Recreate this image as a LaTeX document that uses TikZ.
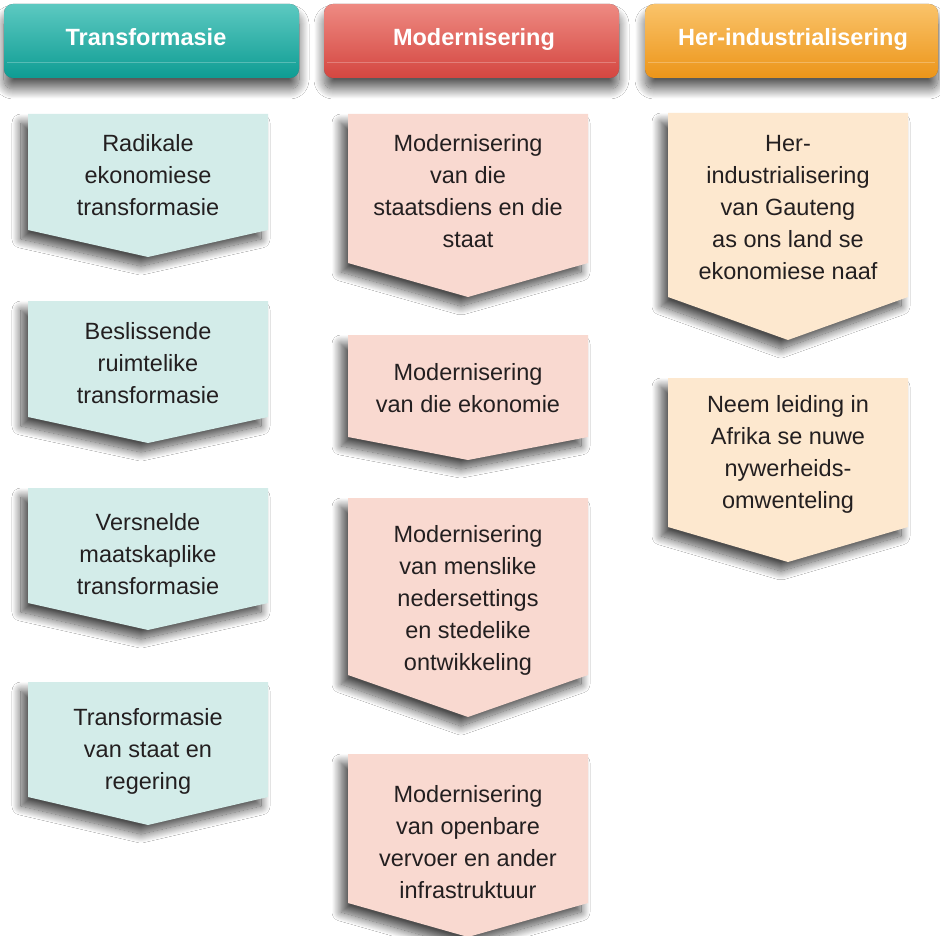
\documentclass[tikz,border=0pt]{standalone}
\usepackage{fontspec}
\setmainfont{Liberation Sans}
\usetikzlibrary{shadows.blur}
\definecolor{tealH}{HTML}{16AEA4}
\definecolor{tealHtop}{HTML}{5CC9C1}
\definecolor{tealHbot}{HTML}{0E9C93}
\definecolor{redH}{HTML}{E5524A}
\definecolor{redHtop}{HTML}{EE8A82}
\definecolor{redHbot}{HTML}{D44640}
\definecolor{oraH}{HTML}{F7A41F}
\definecolor{oraHtop}{HTML}{FAC36A}
\definecolor{oraHbot}{HTML}{EC9519}
\definecolor{tealL}{HTML}{D3ECE9}
\definecolor{pinkL}{HTML}{F9D9D0}
\definecolor{creamL}{HTML}{FDE8CF}
\definecolor{txt}{HTML}{231F20}
\definecolor{shade}{HTML}{5A5A66}
\newcommand\Chev[8]{%
  \path[chevshape, fill=#6] (#2-120,#3) coordinate (#1tl) -- (#2+120,#3) coordinate (#1tr)
     -- (#2+120,#4) coordinate (#1br) -- (#2,#5) coordinate (#1tip) -- (#2-120,#4) coordinate (#1bl) -- cycle;
  \node[bodytext] (#1) at (#2,#7) {#8};
}
\newcommand\Hdr[8]{%
  \path[hdrshape, top color=#4, middle color=#5, bottom color=#6] (#2,4) coordinate (#1a) rectangle (#3,78) coordinate (#1b);
  \draw[white, opacity=0.25, line width=0.8pt] (#2+3,62) -- (#3-3,62);
  \node[hdrtext] (#1) at (#7,46) {#8};
}
\begin{document}
\begin{tikzpicture}[x=1pt,y=-1pt,
  hdrshape/.style={rounded corners=9pt,
    blur shadow={shadow xshift=0pt, shadow yshift=-11pt, shadow blur radius=10pt, shadow opacity=65, shadow blur steps=20, fill=shade}},
  hdrtext/.style={text=white, font=\fontsize{23.5}{28}\selectfont\bfseries, anchor=base, inner sep=0pt},
  chevshape/.style={blur shadow={shadow xshift=-7pt, shadow yshift=-9pt, shadow blur radius=9pt, shadow opacity=70, shadow blur steps=20, fill=shade}},
  bodytext/.style={text=txt, font=\fontsize{23.5}{32}\selectfont, align=center, inner sep=0pt}]
\useasboundingbox (0,0) rectangle (940,936);
\fill[white] (0,0) rectangle (940,936);

% headers
\Hdr{h1}{4}{299}{tealHtop}{tealH}{tealHbot}{146}{Transformasie}
\Hdr{h2}{324}{619}{redHtop}{redH}{redHbot}{474}{Modernisering}
\Hdr{h3}{645}{938}{oraHtop}{oraH}{oraHbot}{793}{Her-industrialisering}

% column 1
\Chev{a1}{148}{114}{230}{257}{tealL}{177}{\strut Radikale\\ \strut ekonomiese\\ \strut transformasie}
\Chev{a2}{148}{301}{417}{443}{tealL}{365}{\strut Beslissende\\ \strut ruimtelike\\ \strut transformasie}
\Chev{a3}{148}{488}{603}{630}{tealL}{556}{\strut Versnelde\\ \strut maatskaplike\\ \strut transformasie}
\Chev{a4}{148}{682}{797}{825}{tealL}{751}{\strut Transformasie\\ \strut van staat en\\ \strut regering}

% column 2
\Chev{b1}{468}{114}{263}{297}{pinkL}{193}{\strut Modernisering\\ \strut van die\\ \strut staatsdiens en die\\ \strut staat}
\Chev{b2}{468}{335}{437}{460}{pinkL}{390}{\strut Modernisering\\ \strut van die ekonomie}
\Chev{b3}{468}{498}{675}{717}{pinkL}{600}{\strut Modernisering\\ \strut van menslike\\ \strut nedersettings\\ \strut en stedelike\\ \strut ontwikkeling}
\Chev{b4}{468}{754}{903}{937}{pinkL}{844}{\strut Modernisering\\ \strut van openbare\\ \strut vervoer en ander\\ \strut infrastruktuur}

% column 3
\Chev{c1}{788}{113}{297}{340}{creamL}{209}{\strut Her-\\ \strut industrialisering\\ \strut van Gauteng\\ \strut as ons land se\\ \strut ekonomiese naaf}
\Chev{c2}{788}{378}{527}{562}{creamL}{454}{\strut Neem leiding in\\ \strut Afrika se nuwe\\ \strut nywerheids-\\ \strut omwenteling}
\end{tikzpicture}
\end{document}
